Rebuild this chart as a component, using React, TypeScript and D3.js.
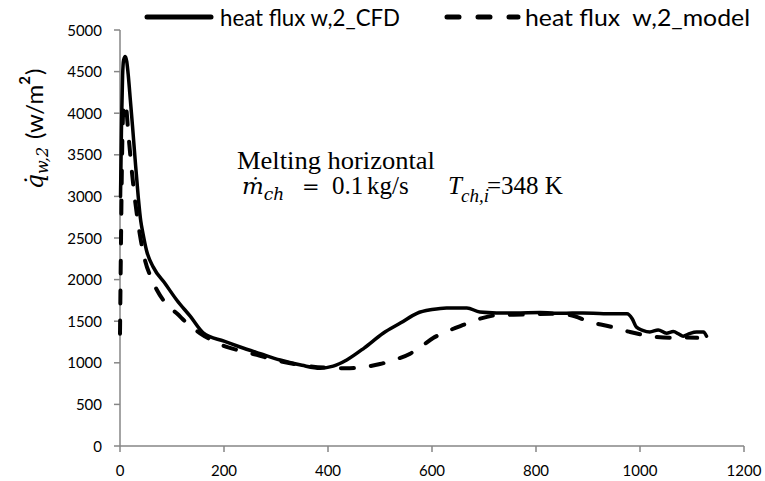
import React from "react";
import * as d3 from "d3";

const cfdX = [1, 3, 5, 7, 10, 13, 16, 20, 24, 29, 35, 40, 44, 51, 64, 87, 109, 135, 160, 200, 231, 270, 308, 350, 385, 410, 436, 470, 506, 540, 571, 600, 628, 667, 692, 724, 760, 808, 850, 890, 930, 975, 985, 993, 1005, 1019, 1035, 1051, 1064, 1075, 1083, 1095, 1109, 1122, 1128];
const cfdY = [3000, 3900, 4450, 4640, 4680, 4620, 4450, 4150, 3850, 3450, 3000, 2700, 2560, 2350, 2150, 1950, 1755, 1560, 1360, 1260, 1190, 1110, 1034, 970, 935, 960, 1034, 1180, 1355, 1480, 1595, 1640, 1660, 1660, 1610, 1600, 1600, 1605, 1595, 1600, 1590, 1590, 1530, 1430, 1390, 1370, 1395, 1355, 1375, 1345, 1320, 1350, 1370, 1370, 1320];

const modelX = [0, 2, 4, 6, 8, 11, 16, 22, 29, 38, 48, 60, 71, 90, 109, 130, 154, 180, 205, 235, 263, 300, 346, 400, 442, 470, 500, 530, 558, 580, 603, 630, 660, 692, 730, 780, 830, 865, 904, 940, 981, 1032, 1060, 1090, 1110];
const modelY = [1350, 2500, 3500, 4000, 4120, 4100, 3760, 3350, 2950, 2550, 2235, 2020, 1875, 1700, 1595, 1470, 1355, 1260, 1190, 1140, 1095, 1030, 975, 940, 935, 950, 985, 1040, 1110, 1200, 1300, 1380, 1455, 1530, 1575, 1580, 1590, 1575, 1490, 1440, 1370, 1310, 1300, 1305, 1300];

const xTicks = [0, 200, 400, 600, 800, 1000, 1200];
const yTicks = [0, 500, 1000, 1500, 2000, 2500, 3000, 3500, 4000, 4500, 5000];
const seriesNames = ["heat flux w,2_CFD", "heat flux  w,2_model"];

export default function App() {
  const W = 765, H = 481;
  const x = d3.scaleLinear().domain([0, 1200]).range([120, 744]);
  const y = d3.scaleLinear().domain([0, 5000]).range([446, 30]);
  const line = d3
    .line<[number, number]>()
    .x((d) => x(d[0]))
    .y((d) => y(d[1]))
    .curve(d3.curveMonotoneX);
  const cfd = cfdX.map((v, i) => [v, cfdY[i]] as [number, number]);
  const model = modelX.map((v, i) => [v, modelY[i]] as [number, number]);
  const axisColor = "#868686";
  const tickFont = "Lato, 'Open Sans', sans-serif";
  const serif = "'Liberation Serif', 'Times New Roman', serif";

  return (
    <svg width={W} height={H} style={{ position: "absolute", left: 0, top: 0, background: "#fff" }}>
      <rect width={W} height={H} fill="#fff" />
      {/* axes */}
      <line x1={x(0)} x2={x(0)} y1={y(5000)} y2={y(0)} stroke={axisColor} strokeWidth={1.5} />
      <line x1={x(0)} x2={x(1200)} y1={y(0)} y2={y(0)} stroke={axisColor} strokeWidth={1.5} />
      {yTicks.map((t) => (
        <g key={"y" + t}>
          <line x1={x(0) - 6} x2={x(0)} y1={y(t)} y2={y(t)} stroke={axisColor} strokeWidth={1.5} />
          <text x={102} y={y(t) + 5.5} textAnchor="end" fontFamily={tickFont} fontSize={15} fill="#000">
            {t}
          </text>
        </g>
      ))}
      {xTicks.map((t) => (
        <g key={"x" + t}>
          <line x1={x(t)} x2={x(t)} y1={y(0)} y2={y(0) + 6} stroke={axisColor} strokeWidth={1.5} />
          <text x={x(t)} y={476} textAnchor="middle" fontFamily={tickFont} fontSize={15} fill="#000">
            {t}
          </text>
        </g>
      ))}
      {/* series */}
      <path d={line(model) || ""} fill="none" stroke="#000" strokeWidth={4} strokeDasharray="13,17" strokeLinecap="round" strokeLinejoin="round" />
      <path d={line(cfd) || ""} fill="none" stroke="#000" strokeWidth={3.5} strokeLinejoin="round" strokeLinecap="round" />
      {/* legend */}
      <line x1={147} x2={211} y1={17} y2={17} stroke="#000" strokeWidth={5} strokeLinecap="round" />
      <text x={220} y={26} fontFamily={tickFont} fontSize={24} textLength={180} lengthAdjust="spacingAndGlyphs">
        {seriesNames[0]}
      </text>
      <line x1={447} x2={518} y1={17} y2={17} stroke="#000" strokeWidth={5} strokeLinecap="round" strokeDasharray="12,19" />
      <text x={525} y={26} fontFamily={tickFont} fontSize={24} textLength={225} lengthAdjust="spacingAndGlyphs" style={{ whiteSpace: "pre" }}>
        {seriesNames[1]}
      </text>
      {/* y axis label */}
      <text transform={`translate(43, 129) rotate(-90)`} textAnchor="middle" fill="#000">
        <tspan fontFamily="'DejaVu Serif', serif" fontStyle="italic" fontSize={24}>q̇</tspan>
        <tspan fontFamily="'DejaVu Serif', serif" fontStyle="italic" fontSize={16} dy={5}>w,2</tspan>
        <tspan fontFamily={tickFont} fontSize={24} dy={-5} dx={8}>(w/m</tspan>
        <tspan fontFamily={tickFont} fontSize={15} fontWeight="bold" dy={-13}>2</tspan>
        <tspan fontFamily={tickFont} fontSize={24} dy={13} dx={1}>)</tspan>
      </text>
      {/* annotation */}
      <text x={237} y={169} fontFamily={serif} fontSize={25} fill="#000" textLength={198} lengthAdjust="spacingAndGlyphs">
        Melting horizontal
      </text>
      <text y={194} fontFamily={serif} fontSize={25} fill="#000">
        <tspan x={242} fontFamily="'DejaVu Serif', serif" fontStyle="italic" fontSize={23}>ṁ</tspan>
        <tspan fontFamily="'DejaVu Serif', serif" fontStyle="italic" fontSize={17} dy={6}>ch</tspan>
        <tspan x={302} dy={-6} fontFamily="'DejaVu Serif', serif" fontSize={21}>=</tspan>
        <tspan x={332}>0.1</tspan>
        <tspan x={367}>kg/s</tspan>
        <tspan x={448} fontStyle="italic">T</tspan>
        <tspan x={461} dy={8} fontStyle="italic" fontSize={19}>ch,i</tspan>
        <tspan x={487} dy={-8}>=348 K</tspan>
      </text>
    </svg>
  );
}
